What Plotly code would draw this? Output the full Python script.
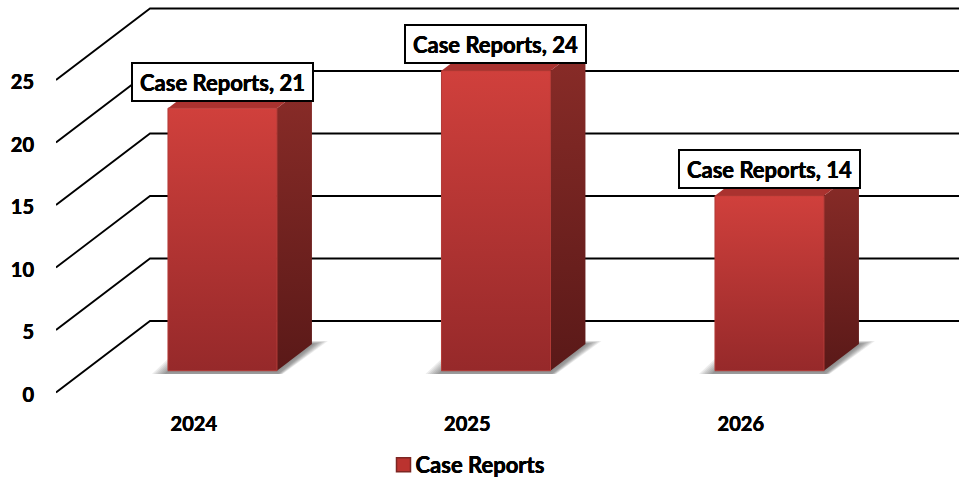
import plotly.graph_objects as go

years = ["2024", "2025", "2026"]
case_reports = [21, 24, 14]
y_ticks = [0, 5, 10, 15, 20, 25]
series_name = "Case Reports"

FONT = "Lato, Carlito, Calibri, sans-serif"
HEAVY = "0.25px 0 0 #000, -0.25px 0 0 #000"
W, H = 959, 478
L, B = 56, 85.5
PX_X, PX_Y = 273.5, 12.5      # px per category / per value unit
X0_PX = 193.8                 # px of first category on the front plane
DX = 94 / PX_X                # full depth in x units
DY = 71.5 / PX_Y              # full depth in y units
D_FRONT, D_BACK = 0.305, 0.677
HALF = 54.5 / PX_X
x_range = [(L - X0_PX) / PX_X, (W - X0_PX) / PX_X]
y_range = [-B / PX_Y, (H - B) / PX_Y]


def proj(x, y, d):
    return x + d * DX, y + d * DY


fig = go.Figure()

# walls: back-wall gridlines and side-wall diagonals
gx, gy = [], []
for t in y_ticks:
    xa, ya = x_range[0], t
    xb, yb = proj(x_range[0], t, 1)
    gx += [xa, xb, x_range[1], None]
    gy += [ya, yb, yb, None]
fig.add_trace(go.Scatter(x=gx, y=gy, mode="lines", line=dict(color="#000000", width=1.8),
                         showlegend=False, hoverinfo="skip"))

for i, v in enumerate(case_reports):
    # soft floor shadow
    for k in (16, 14, 12, 10, 8, 6, 4, 2):
        e = k / PX_X
        low = -min(k, 4) * 0.8 / PX_Y
        fx1, fy1 = proj(i - HALF - e, low, D_FRONT)
        fx2, fy2 = proj(i + HALF + 0.35 * e, low, D_FRONT)
        bx2, by2 = proj(i + HALF + e, k * 0.2 / PX_Y, D_BACK)
        bx1, by1 = proj(i - HALF - e, k * 0.2 / PX_Y, D_BACK)
        fig.add_trace(go.Scatter(x=[fx1, fx2, bx2, bx1, fx1], y=[fy1, fy2, by2, by1, fy1],
                                 mode="lines", fill="toself", line=dict(width=0),
                                 fillcolor="rgba(50,50,50,0.085)",
                                 showlegend=False, hoverinfo="skip"))
    # side face
    c = [proj(i + HALF, 0, D_FRONT), proj(i + HALF, 0, D_BACK),
         proj(i + HALF, v, D_BACK), proj(i + HALF, v, D_FRONT)]
    fig.add_trace(go.Scatter(x=[p[0] for p in c] + [c[0][0]], y=[p[1] for p in c] + [c[0][1]],
                             mode="lines", fill="toself", line=dict(width=0),
                             fillgradient=dict(type="vertical",
                                               colorscale=[[0, "#5a1918"], [1, "#8a2c28"]]),
                             showlegend=False, hoverinfo="skip"))
    # top face
    c = [proj(i - HALF, v, D_FRONT), proj(i + HALF, v, D_FRONT),
         proj(i + HALF, v, D_BACK), proj(i - HALF, v, D_BACK)]
    fig.add_trace(go.Scatter(x=[p[0] for p in c] + [c[0][0]], y=[p[1] for p in c] + [c[0][1]],
                             mode="lines", fill="toself", line=dict(width=0), fillcolor="#aa322f",
                             showlegend=False, hoverinfo="skip"))
    # front face
    c = [proj(i - HALF, 0, D_FRONT), proj(i + HALF, 0, D_FRONT),
         proj(i + HALF, v, D_FRONT), proj(i - HALF, v, D_FRONT)]
    fig.add_trace(go.Scatter(x=[p[0] for p in c] + [c[0][0]], y=[p[1] for p in c] + [c[0][1]],
                             mode="lines", fill="toself", line=dict(color="#b23a36", width=1),
                             fillgradient=dict(type="vertical",
                                               colorscale=[[0, "#96292a"], [1, "#d0403c"]]),
                             showlegend=False, name=series_name,
                             hovertemplate="%{text}", text=[f"{series_name}, {v}"] * 5))
    # data label
    ax, _ = proj(i, v, D_FRONT)
    _, ay = proj(i, v, D_BACK)
    fig.add_annotation(x=ax, y=ay, xref="x", yref="y", showarrow=False,
                       text=f"<b>{series_name}, {v}</b>", width=177, height=34,
                       font=dict(family=FONT, size=22, color="#000000", shadow=HEAVY),
                       bgcolor="#ffffff", bordercolor="#000000", borderwidth=2, borderpad=1)

# legend key
fig.add_trace(go.Scatter(x=[None], y=[None], mode="markers", name=f"<b>{series_name}</b>",
                         marker=dict(symbol="square", size=14, color="#bb332f",
                                     line=dict(color="#7d2623", width=1.5))))

tick_font = dict(family=FONT, size=20, color="#000000", shadow=HEAVY)
fig.update_layout(
    width=W, height=H, margin=dict(l=L, r=0, t=0, b=0, pad=0),
    plot_bgcolor="#ffffff", paper_bgcolor="#ffffff",
    font=dict(family=FONT, size=20, color="#000000"),
    xaxis=dict(range=x_range, tickvals=list(range(len(years))),
               ticktext=[f"<b>{y}</b>" for y in years], showgrid=False, zeroline=False,
               showline=False, ticks="", ticklabelstandoff=17, fixedrange=True,
               anchor="free", position=B / H, tickfont=tick_font),
    yaxis=dict(range=y_range, tickvals=y_ticks, ticktext=[f"<b>{t}</b>" for t in y_ticks],
               showgrid=False, zeroline=False, showline=False, ticks="",
               ticklabelstandoff=21, ticklabelshift=2, fixedrange=True, tickfont=tick_font),
    legend=dict(x=(383.5 - L) / (W - L), y=0, xanchor="left", yanchor="bottom",
                orientation="h", bgcolor="rgba(0,0,0,0)", itemsizing="trace",
                font=dict(family=FONT, size=22, color="#000000", shadow=HEAVY), itemwidth=30),
)

fig.write_html("out.html", config={"displayModeBar": False},
               post_script="document.body.style.margin='0';"
                           "document.querySelectorAll('.legendtext').forEach(function(t){"
                           "t.setAttribute('x', parseFloat(t.getAttribute('x')) - 8);});"
                           "document.querySelectorAll('g.legend').forEach(function(g){"
                           "g.setAttribute('transform', g.getAttribute('transform') + ' translate(0,8)');});")
